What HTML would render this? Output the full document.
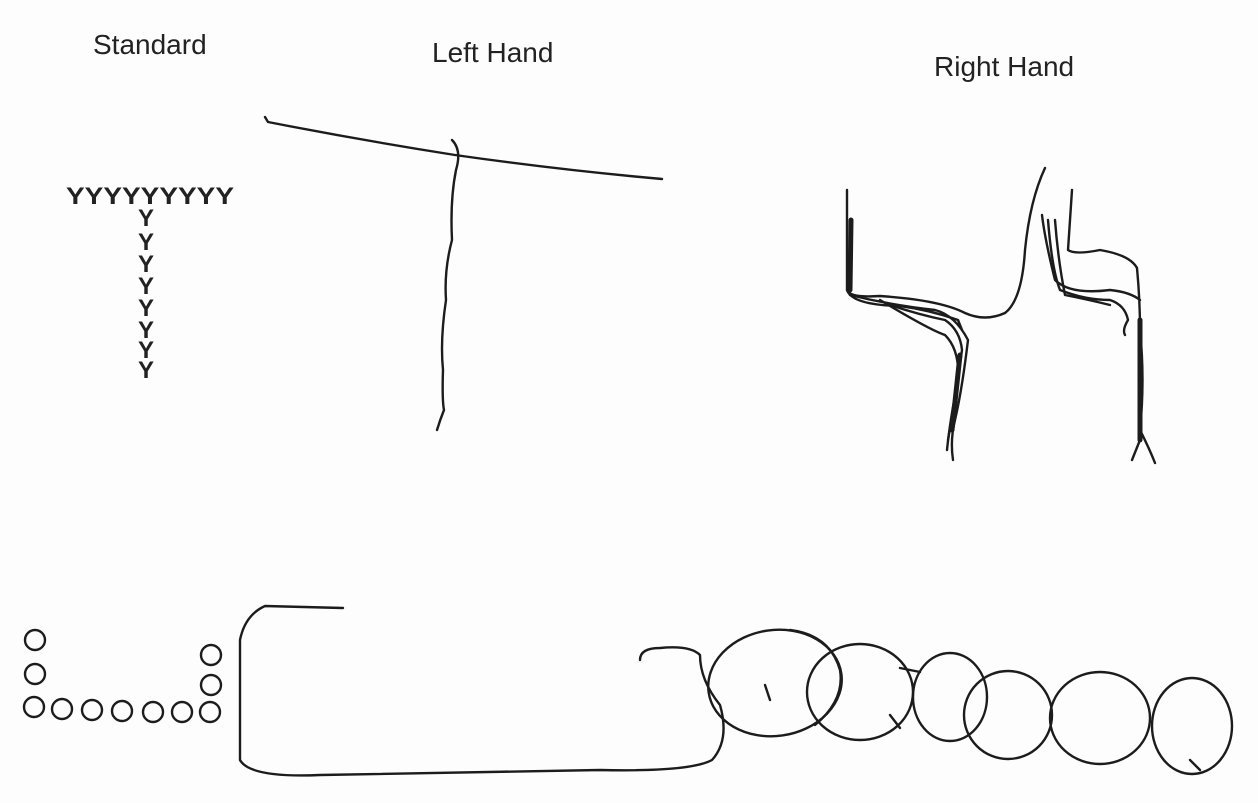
<!DOCTYPE html>
<html><head><meta charset="utf-8"><style>
body{margin:0;background:#fdfdfd;}
svg{display:block}
text{font-family:"Liberation Sans",sans-serif;font-size:28px;fill:#222}
.s{fill:none;stroke:#1c1c1c;stroke-width:2.4;stroke-linecap:round;stroke-linejoin:round}
.y{font-size:24px;font-weight:bold;fill:#222}
</style></head><body>
<svg width="1258" height="803" viewBox="0 0 1258 803">
<text x="93" y="54">Standard</text>
<text x="432" y="62">Left Hand</text>
<text x="934" y="76">Right Hand</text>

<g>
<text class="y" x="66" y="204" textLength="168" lengthAdjust="spacingAndGlyphs">YYYYYYYYY</text>
<text class="y" x="138" y="226">Y</text>
<text class="y" x="138" y="250">Y</text>
<text class="y" x="138" y="272">Y</text>
<text class="y" x="138" y="294">Y</text>
<text class="y" x="138" y="316">Y</text>
<text class="y" x="138" y="338">Y</text>
<text class="y" x="138" y="358">Y</text>
<text class="y" x="138" y="378">Y</text>
</g>

<g class="s">
<path d="M265 117 L268 122 Q360 140 455 155 Q560 170 662 179"/>
<path d="M452 140 Q462 150 456 170 Q450 200 452 240 Q444 270 446 300 Q440 340 443 370 Q442 400 444 410 Q440 420 437 430"/>
</g>

<g class="s">
<path d="M847 190 L847 290 Q850 298 880 296 Q940 300 965 313 Q985 322 1005 313 Q1022 300 1025 250 Q1030 200 1045 168"/>
<path d="M847 290 Q852 305 900 306 Q930 310 958 320 L962 330"/>
<path d="M850 295 Q890 305 935 310 Q955 315 968 340 Q962 390 955 420 Q950 440 953 460"/>
<path d="M890 305 Q920 315 945 320 Q960 330 962 350 Q955 400 948 440"/>
<path d="M880 300 Q930 330 945 335 Q960 350 958 380 Q950 420 947 450"/>
<path d="M851 220 L850 290" style="stroke-width:5"/>
<path d="M960 355 L952 430" style="stroke-width:5"/>
<path d="M1072 190 L1068 250 Q1075 255 1100 250 Q1130 255 1137 268 Q1140 300 1140 330 Q1145 380 1140 430 Q1150 450 1155 463"/>
<path d="M1042 215 Q1045 240 1055 280 Q1070 295 1110 290 Q1130 292 1140 300"/>
<path d="M1048 220 Q1052 270 1060 290 Q1085 300 1110 300 Q1125 305 1128 320 Q1122 330 1125 335"/>
<path d="M1055 220 Q1058 260 1065 295 Q1090 300 1110 305"/>
<path d="M1140 320 L1140 440" style="stroke-width:5"/>
<path d="M1140 440 L1132 460"/>
</g>

<g class="s">
<circle cx="35" cy="640" r="10"/><circle cx="35" cy="674" r="10"/>
<circle cx="34" cy="707" r="10"/><circle cx="62" cy="709" r="10"/><circle cx="92" cy="710" r="10"/>
<circle cx="122" cy="711" r="10"/><circle cx="153" cy="712" r="10"/><circle cx="182" cy="712" r="10"/><circle cx="210" cy="712" r="10"/>
<circle cx="211" cy="685" r="10"/><circle cx="211" cy="655" r="10"/>
</g>

<g class="s">
<path d="M343 608 L265 606 Q245 615 240 640 L240 760 Q250 778 320 775 L600 770 Q690 772 712 760 Q730 740 720 705 Q700 680 700 655 Q690 645 660 648 Q640 648 640 660"/>
<ellipse cx="775" cy="683" rx="67" ry="53" transform="rotate(-8 775 683)"/>
<path d="M790 630 Q830 635 840 670 Q845 700 815 725"/>
<ellipse cx="860" cy="692" rx="53" ry="48"/>
<ellipse cx="950" cy="697" rx="37" ry="44"/>
<ellipse cx="1008" cy="715" rx="44" ry="44"/>
<ellipse cx="1100" cy="718" rx="50" ry="46"/>
<ellipse cx="1192" cy="726" rx="40" ry="48"/>
<path d="M765 685 L770 700 M1190 760 L1200 770 M900 668 L920 672 M890 715 L900 728"/>
</g>
</svg>
</body></html>
